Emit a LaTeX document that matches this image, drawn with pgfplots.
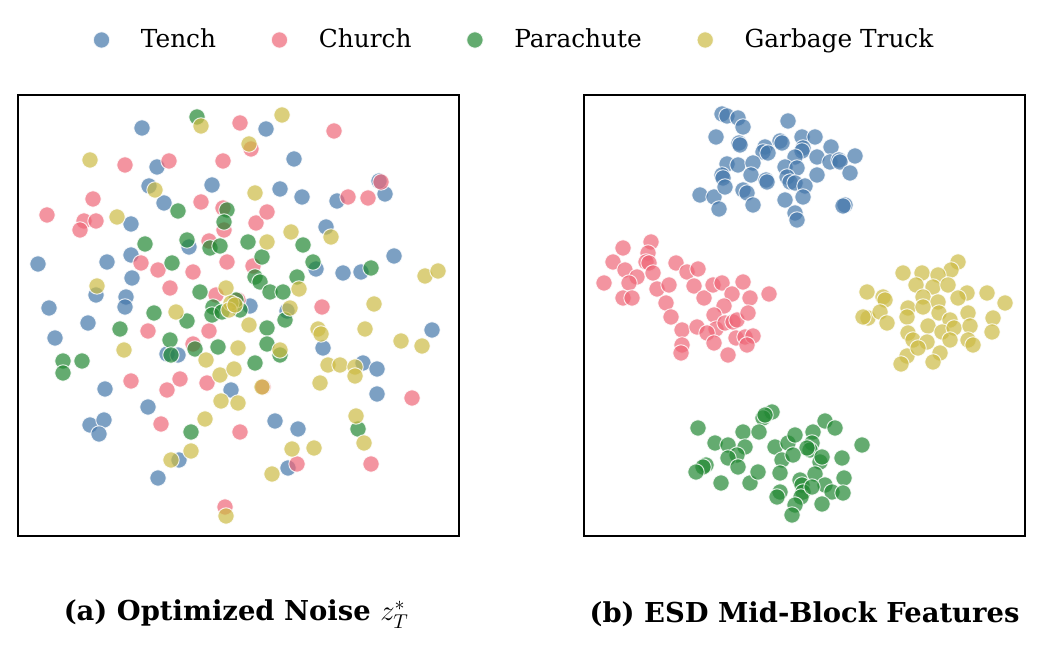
\documentclass[border=0pt]{standalone}
\usepackage{pgfplots}
\pgfplotsset{compat=1.18}
\usepackage{fontspec}
\setmainfont{DejaVu Serif}
\definecolor{tolblue}{HTML}{4477AA}
\definecolor{tolred}{HTML}{EE6677}
\definecolor{tolgreen}{HTML}{228833}
\definecolor{tolyellow}{HTML}{CCBB44}
\pgfplotsset{
  panel/.style={
    width=220.5pt, height=220.5pt, scale only axis,
    y dir=reverse, ymin=95, ymax=536,
    xtick=\empty, ytick=\empty,
    axis line style={line width=0.7pt},
    clip=false,
  },
  pts/.style={only marks, mark=*, mark size=4.1pt,
    mark options={fill=#1, draw=white, fill opacity=0.7, draw opacity=0.8, line width=0.5pt}},
}
\begin{document}
\begin{tikzpicture}
\path (-9pt,-57.5pt) rectangle (512.5pt,268pt);
\begin{axis}[panel, at={(0pt,0pt)}, anchor=south west, xmin=18, xmax=459,
  legend columns=4,
  legend style={at={(1.1265,1.1247)}, anchor=center, draw=none,
    font=\fontsize{12.4}{14}\selectfont,
    /tikz/every even column/.append style={column sep=25pt}},
  legend image code/.code={\path (0pt,0pt) (22pt,0pt); \draw[mark repeat=2,mark phase=2] plot coordinates {(0pt,0pt) (4.5pt,0pt) (9pt,0pt)};},
]
\addplot[pts=tolblue] table {
142 128
266 129
157 167
294 159
149 186
212 185
280 189
164 203
302 197
337 201
385 194
379 181
131 224
326 227
38 264
107 262
131 255
189 247
132 278
96 295
126 297
125 307
49 308
55 338
88 323
316 269
343 273
361 272
394 256
250 306
287 311
167 354
178 355
323 348
363 363
377 369
432 330
231 390
105 389
90 425
104 420
99 434
148 407
158 478
179 460
275 421
298 429
288 468
377 394
};
\addlegendentry{Tench}
\addplot[pts=tolred] table {
240 123
334 131
251 149
169 161
125 165
223 161
93 199
47 215
84 221
96 221
80 230
201 202
223 208
224 230
209 241
256 223
267 212
348 197
368 198
381 182
141 263
158 270
170 288
193 272
227 262
253 266
216 295
322 307
238 300
148 331
209 331
193 344
131 381
167 390
180 379
207 383
161 424
240 432
225 507
263 387
412 398
297 464
371 464
};
\addlegendentry{Church}
\addplot[pts=tolgreen] table {
197 117
178 211
227 210
224 222
145 244
187 240
210 248
220 246
248 242
262 257
303 245
172 263
313 262
297 277
255 277
260 282
270 292
283 292
200 292
154 313
187 321
213 307
212 315
222 312
240 310
236 300
371 268
267 328
267 344
285 320
280 355
120 329
63 361
63 373
82 361
170 340
171 355
195 349
218 347
255 363
358 429
191 432
};
\addlegendentry{Parachute}
\addplot[pts=tolyellow] table {
201 126
90 160
155 190
117 217
97 286
226 288
231 303
229 310
176 312
249 144
282 115
255 193
291 232
267 242
331 237
299 289
290 308
425 276
438 271
374 304
235 305
124 350
206 360
220 375
234 369
238 348
221 401
238 403
205 419
191 451
171 460
226 516
249 325
318 329
321 334
365 329
401 341
422 346
280 350
328 365
340 365
355 367
355 376
320 383
262 387
292 449
314 448
356 416
364 443
272 474
};
\addlegendentry{Garbage Truck}
\node[font=\fontsize{13.7}{16}\bfseries] at (rel axis cs:0.495,-0.177) {(a) Optimized Noise $z_T^*$};
\end{axis}
\begin{axis}[panel, at={(283pt,0pt)}, anchor=south west, xmin=584, xmax=1025]
\addplot[pts=tolblue] table {
722 114
727 116
738 118
743 127
788 121
716 137
739 143
740 145
765 147
780 141
782 143
802 137
815 137
831 147
855 156
803 148
802 151
817 157
763 152
768 153
795 157
727 164
738 165
753 163
830 162
839 160
840 162
785 167
797 168
722 175
723 178
751 175
766 180
767 182
787 177
790 182
795 183
805 186
817 175
850 173
700 195
714 197
743 190
747 193
725 187
753 205
719 209
785 200
803 197
845 205
843 206
795 213
797 220
};
\addplot[pts=tolred] table {
651 242
623 248
648 253
646 262
649 263
613 262
625 270
637 277
629 283
653 273
604 283
623 298
632 298
657 289
669 285
676 263
687 272
698 269
694 286
704 298
666 303
671 317
682 330
697 327
682 345
681 353
713 285
722 283
732 294
743 282
750 298
769 294
724 306
714 315
716 329
707 333
714 343
728 355
725 323
733 322
737 320
748 313
736 338
745 337
753 336
747 345
};
\addplot[pts=tolgreen] table {
698 428
772 412
763 418
765 415
743 432
759 432
715 443
728 445
745 447
737 455
728 458
738 467
706 465
703 467
696 472
721 483
750 483
758 472
775 447
788 443
795 435
813 432
812 443
810 450
807 448
825 421
835 428
862 445
782 460
793 455
820 462
822 457
842 458
780 473
815 474
800 480
802 485
825 485
844 478
832 492
843 493
780 492
777 497
803 492
801 497
795 505
822 504
792 515
812 487
};
\addplot[pts=tolyellow] table {
958 262
951 270
903 273
922 273
938 275
916 285
933 287
948 285
867 292
883 297
885 300
987 293
1005 303
967 293
958 298
923 297
938 302
868 318
863 317
880 312
887 323
908 308
907 317
923 307
939 313
950 320
968 313
993 318
928 326
942 332
954 328
970 326
992 332
908 333
913 340
927 342
950 340
968 340
973 345
940 353
933 362
907 356
901 364
918 348
};
\node[font=\fontsize{13.7}{16}\bfseries] at (rel axis cs:0.5,-0.177) {(b) ESD Mid-Block Features};
\end{axis}
\end{tikzpicture}
\end{document}
